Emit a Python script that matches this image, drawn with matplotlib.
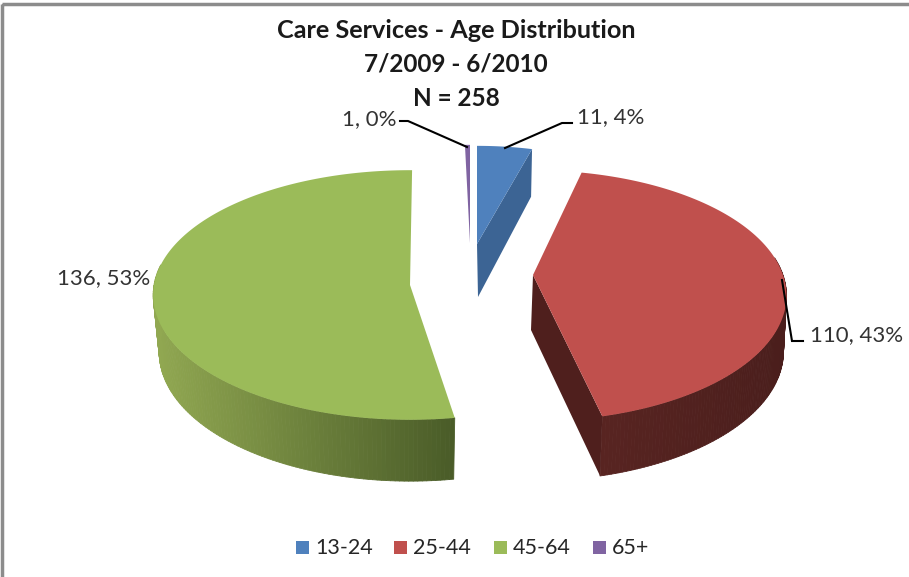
import numpy as np
import matplotlib
matplotlib.use('Agg')
import matplotlib.pyplot as plt
from matplotlib.collections import PolyCollection
from matplotlib.colors import to_rgb
from matplotlib.patches import Polygon, Rectangle

title_lines = ['Care Services - Age Distribution', '7/2009 - 6/2010', 'N = 258']
categories = ['13-24', '25-44', '45-64', '65+']
counts = [11, 110, 136, 1]

# colours: top face, cut face, outer wall left end, outer wall right end
top_colors = ['#4f81bd', '#c0504d', '#9bbb59', '#8064a2']
cut_colors = ['#3c6494', '#4f1f1d', '#4f6229', '#3f3157']
wall_left = ['#3c6494', '#5a2522', '#92a952', '#3f3157']
wall_right = ['#3c6494', '#4a1e1c', '#4a5c28', '#3f3157']

# exploded slice layout in pixels: apex x, apex y, x radius, y radius, perspective
top_faces = [(477, 244, 224, 106, 0.08), (533, 275, 250, 122, 0.165),
             (410, 285, 256, 124, 0.08), (470, 243, 224, 106, 0.08)]
bottom_faces = [(478, 297, 216, 112, 0.08), (531, 330, 249, 126, 0.165),
                (410, 342, 250, 128, 0.08), (470, 296, 216, 112, 0.08)]
rotation = [0, -2.3, 1.9, 0]

# label text position, then leader line points
label_pos = [(577, 117), (810, 335), (150, 278), (397, 119)]
leaders = [[(572, 123), (562, 123), (505, 148)],
           [(782, 280), (792, 341), (803, 341)],
           [],
           [(400, 121), (408, 121), (467, 147)]]
legend_x = [296, 394, 494, 593]
title_sizes = [18.2, 17.5, 17.5]


def rim(face, phi):
    cx, cy, rx, ry, k = face
    s = 1 / (1 + k * np.cos(phi))
    return np.column_stack([cx + rx * np.sin(phi) * s, cy - ry * np.cos(phi) * s])


def mix(c1, c2, t):
    c1, c2 = np.array(to_rgb(c1)), np.array(to_rgb(c2))
    return tuple(c1 + (c2 - c1) * t)


fig = plt.figure(figsize=(9.09, 5.77), dpi=100)
ax = fig.add_axes([0, 0, 1, 1])
ax.set_xlim(0, 909)
ax.set_ylim(577, 0)
ax.axis('off')
plt.rcParams['font.family'] = ['Lato', 'DejaVu Sans']

# chart border
ax.add_patch(Rectangle((2, 3.5), 1200, 1200, fc='none', ec='#8c8c8c', lw=2.5))

total = sum(counts)
edges = np.cumsum([0] + counts) / total * 360

for i in range(len(counts)):
    start = np.radians(edges[i] + rotation[i])
    end = np.radians(edges[i + 1] + rotation[i])
    phi = np.linspace(start, end, 200)
    top = rim(top_faces[i], phi)
    bottom = rim(bottom_faces[i], phi)
    apex_top = top_faces[i][:2]
    apex_bottom = bottom_faces[i][:2]

    # outer wall as thin strips so it can shade along x
    strips = []
    shades = []
    xmin, xmax = min(top[:, 0].min(), bottom[:, 0].min()), max(top[:, 0].max(), bottom[:, 0].max())
    for j in range(len(phi) - 1):
        if np.cos(phi[j]) > 0.15:
            continue
        strips.append([top[j], top[j + 1], bottom[j + 1], bottom[j]])
        t = ((top[j, 0] + bottom[j, 0]) / 2 - xmin) / max(xmax - xmin, 1)
        shades.append(mix(wall_left[i], wall_right[i], t))
    if strips:
        ax.add_collection(PolyCollection(strips, facecolors=shades, edgecolors=shades, linewidths=0.6))

    # cut faces seen from the front
    if i != 2:
        ax.add_patch(Polygon([apex_top, top[-1], bottom[-1], apex_bottom], fc=cut_colors[i], ec='none'))

    ax.add_patch(Polygon(np.vstack([[apex_top], top]), fc=top_colors[i], ec='none'))

# leader lines and labels
for i, count in enumerate(counts):
    text = f'{count}, {round(count / total * 100)}%'
    if leaders[i]:
        xs, ys = zip(*leaders[i])
        ax.plot(xs, ys, color='black', lw=1.5, solid_joinstyle='miter')
    ha = 'right' if label_pos[i][0] < 455 else 'left'
    ax.text(label_pos[i][0], label_pos[i][1], text, ha=ha, va='center', fontsize=16, color='#333333')

# title
for line, y, size in zip(title_lines, [30, 64, 99], title_sizes):
    ax.text(456, y, line, ha='center', va='center', fontsize=size, fontweight='bold', color='#1a1a1a')

# legend
for i, name in enumerate(categories):
    ax.add_patch(Rectangle((legend_x[i], 541), 13, 13, fc=top_colors[i], ec='none'))
    ax.text(legend_x[i] + 19, 548, name, ha='left', va='center', fontsize=15.5, color='#262626')

fig.savefig('out.png', dpi=100)
